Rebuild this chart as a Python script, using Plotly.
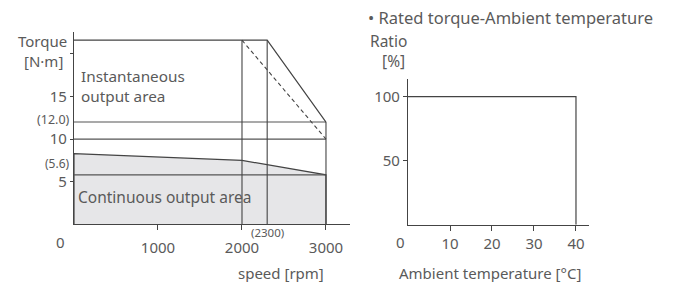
import plotly.graph_objects as go

W, H = 681, 282
def px(x): return x / W
def py(y): return (H - y) / H

# ---- data: speed-torque ----
peak_torque = 21.6
inst_speed = [0, 2300, 3000]
inst_torque = [peak_torque, peak_torque, 12.0]
dash_speed = [2000, 3000]
dash_torque = [peak_torque, 10.0]
cont_speed = [0, 2000, 3000]
cont_torque = [8.3, 7.5, 5.8]
ref_levels = [12.0, 10.0, 5.8]
vlines_speed = [2000, 2300]
x_ticks = [1000, 2000, 3000]
y_ticks = [5, 10, 15, 20]
y_ticklabels = ["5", "10", "15", ""]

# ---- data: rated torque vs ambient temperature ----
temp = [0, 40, 40]
ratio = [100, 100, 0]
t_ticks = [10, 20, 30, 40]
r_ticks = [50, 100]

LINE = "#444444"
TXT = "#5a5a5a"
FILL = "#e6e6e8"
FONT = "Noto Sans"
TICK = 15
TEXT = 15.5

fig = go.Figure()

# continuous area fill
fig.add_trace(go.Scatter(
    x=[cont_speed[0]] + cont_speed + [cont_speed[-1]],
    y=[0] + cont_torque + [0],
    fill="toself", fillcolor=FILL, mode="lines",
    line=dict(color=LINE, width=1.2), xaxis="x", yaxis="y", hoverinfo="skip"))
# reference horizontal lines
for lv in ref_levels:
    fig.add_trace(go.Scatter(x=[0, 3000], y=[lv, lv], mode="lines",
                             line=dict(color="#555555", width=1.1), xaxis="x", yaxis="y"))
# vertical lines
for vs in vlines_speed:
    fig.add_trace(go.Scatter(x=[vs, vs], y=[0, peak_torque], mode="lines",
                             line=dict(color=LINE, width=1.1), xaxis="x", yaxis="y"))
fig.add_trace(go.Scatter(x=[3000, 3000], y=[0, 12.0], mode="lines",
                         line=dict(color=LINE, width=1.1), xaxis="x", yaxis="y"))
# instantaneous outline
fig.add_trace(go.Scatter(x=inst_speed, y=inst_torque, mode="lines",
                         line=dict(color=LINE, width=1.2), xaxis="x", yaxis="y"))
fig.add_trace(go.Scatter(x=dash_speed, y=dash_torque, mode="lines",
                         line=dict(color=LINE, width=1.1, dash="4px,3px"), xaxis="x", yaxis="y"))

# right chart
fig.add_trace(go.Scatter(x=temp, y=ratio, mode="lines",
                         line=dict(color=LINE, width=1.2), xaxis="x2", yaxis="y2"))

axis_common = dict(showgrid=False, zeroline=False, showline=True, linecolor=LINE,
                   linewidth=1.2, ticks="outside", tickcolor=LINE, tickwidth=1,
                   tickfont=dict(family=FONT, size=TICK, color=TXT), fixedrange=True)

fig.update_layout(
    width=W, height=H, margin=dict(l=0, r=0, t=0, b=0),
    paper_bgcolor="white", plot_bgcolor="white", showlegend=False,
    font=dict(family=FONT, color=TXT),
    xaxis=dict(axis_common, domain=[px(74), px(350)], range=[0, 3286],
               tickvals=x_ticks, ticktext=[str(v) for v in x_ticks],
               ticklen=5, ticklabelstandoff=5, anchor="y"),
    yaxis=dict(axis_common, domain=[py(224.3), py(31.7)], range=[0, 22.6],
               tickvals=y_ticks, ticktext=y_ticklabels, ticklen=3, anchor="x"),
    xaxis2=dict(axis_common, domain=[px(408), px(589)], range=[0, 43.1],
                tickvals=t_ticks, ticktext=[str(v) for v in t_ticks],
                ticklen=5, ticklabelstandoff=0, anchor="y2"),
    yaxis2=dict(axis_common, domain=[py(224.7), py(79.3)], range=[0, 113.6],
                tickvals=r_ticks, ticktext=[str(v) for v in r_ticks], ticklen=4, anchor="x2"),
)

def ann(text, x, y, size=TEXT, xanchor="left", yanchor="middle", align="left"):
    fig.add_annotation(text=text, x=px(x), y=py(y), xref="paper", yref="paper",
                       xanchor=xanchor, yanchor=yanchor, showarrow=False, align=align,
                       font=dict(family=FONT, size=size, color=TXT))

ann("Torque<br>[N·m]&nbsp;", 69, 51.5, size=15, xanchor="right", align="right")
ann("(12.0)", 72, 120, size=12.5, xanchor="right")
ann("(5.6)", 72, 163, size=12, xanchor="right")
ann("0", 60, 242, size=TICK, xanchor="center")
ann("Instantaneous<br>output area", 79, 86.5, size=15.3)
ann("Continuous output area", 76, 197)
ann("(2300)", 267, 232, size=11.5, xanchor="center")
ann("speed [rpm]", 281, 272.5, size=15, xanchor="center")

ann("• Rated torque-Ambient temperature", 366, 17, size=16.5)
ann("Ratio<br>&nbsp;&nbsp;&nbsp;[%]", 368, 51, size=15.5)
ann("0", 400, 242, size=TICK, xanchor="center")
ann("Ambient temperature [°C]", 490, 272.5, size=15, xanchor="center")

fig.write_html("out.html", config={"displayModeBar": False},
               post_script="document.body.style.margin='0';")
